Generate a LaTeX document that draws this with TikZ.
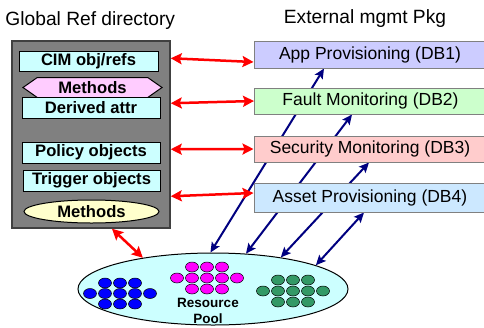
\documentclass[tikz,border=0pt]{standalone}
\usepackage{fontspec}
\setmainfont{Liberation Sans}
\usetikzlibrary{arrows.meta,shapes.geometric,shapes.symbols,calc}
\pgfdeclarelayer{bg}
\pgfsetlayers{bg,main}
\definecolor{boxgray}{HTML}{808080}
\definecolor{boxedge}{HTML}{404040}
\definecolor{cyanfill}{HTML}{CCFFFF}
\definecolor{pinkfill}{HTML}{FFCCFF}
\definecolor{yellowfill}{HTML}{FFFFCC}
\definecolor{appfill}{HTML}{CCCCFF}
\definecolor{faultfill}{HTML}{CCFFCC}
\definecolor{secfill}{HTML}{FFCCCC}
\definecolor{assetfill}{HTML}{CCE8FF}
\definecolor{redarrow}{HTML}{FF0000}
\definecolor{navyarrow}{HTML}{000080}
\definecolor{dotblue}{HTML}{0000FF}
\definecolor{dotmagenta}{HTML}{FF00FF}
\definecolor{dotgreen}{HTML}{339966}
\definecolor{rightedge}{HTML}{808080}
\begin{document}
\begin{tikzpicture}[x=1pt,y=-1pt,
  leftbox/.style={draw=black, line width=1pt, fill=cyanfill, inner sep=0pt,
    font=\fontsize{16.6}{18}\selectfont\bfseries},
  rightbox/.style={draw=rightedge, line width=1pt, inner sep=0pt,
    minimum width=232pt, font=\fontsize{17.5}{19}\selectfont},
  titletext/.style={anchor=base, inner sep=0pt, font=\fontsize{19.2}{21}\selectfont},
  redarr/.style={draw=redarrow, line width=2.5pt,
    {Stealth[length=11pt,width=11pt,inset=2pt]}-{Stealth[length=11pt,width=11pt,inset=2pt]}},
  bluearr/.style={draw=navyarrow, line width=2pt,
    {Stealth[length=10pt,width=9pt,inset=2pt]}-{Stealth[length=10pt,width=9pt,inset=2pt]}},
  dot/.style={draw=black, line width=0.5pt}
]
\clip (0,0) rectangle (484,327);
\begin{pgfonlayer}{bg}
\fill[white] (0,0) rectangle (484,327);
\end{pgfonlayer}

% titles
\node[titletext] (t1) at (90.3,25) {Global Ref directory};
\node[titletext] (t2) at (365,23.5) {External mgmt Pkg};

% global ref directory
\node[draw=boxedge, line width=1.5pt, fill=boxgray, minimum width=158pt,
  minimum height=187pt, inner sep=0pt] (gray) at (91,134.5) {};
\node[leftbox, minimum width=139pt, minimum height=20pt] (cim) at (88.5,61) {CIM obj/refs};
\node[draw=black, line width=1pt, fill=pinkfill, shape=signal, signal to=east and west,
  signal pointer angle=70, minimum width=139pt, minimum height=20pt, inner sep=0pt,
  font=\fontsize{16.6}{18}\selectfont\bfseries] (meth1) at (92.5,87.5) {Methods};
\node[leftbox, minimum width=138pt, minimum height=21pt] (derived) at (91,107.5) {Derived attr};
\node[leftbox, minimum width=138pt, minimum height=21pt] (policy) at (91,152.5) {Policy objects};
\node[leftbox, minimum width=137pt, minimum height=21pt] (trigger) at (91.5,180.5) {Trigger objects};
\node[ellipse, draw=black, line width=1pt, fill=yellowfill, minimum width=135pt,
  minimum height=23pt, inner sep=0pt, font=\fontsize{16.6}{18}\selectfont\bfseries]
  (meth2) at (91.5,211.5) {Methods};

% external packages
\node[rightbox, fill=appfill, minimum height=27pt] (app) at (370,54.5) {App Provisioning (DB1)};
\node[rightbox, fill=faultfill, minimum height=26pt] (fault) at (370.5,101) {Fault Monitoring (DB2)};
\node[rightbox, fill=secfill, minimum height=26pt] (sec) at (370,149) {Security Monitoring (DB3)};
\node[rightbox, fill=assetfill, minimum height=29pt] (asset) at (370,197.5) {Asset Provisioning (DB4)};

% resource pool
\node[ellipse, draw=black, line width=1pt, fill=cyanfill, minimum width=270pt,
  minimum height=72pt, inner sep=0pt] (pool) at (213,289) {};

\foreach \x/\y in {105/283,120/283,135/283,90/293.5,105/293.5,120/293.5,135/293.5,150/293.5,105/304,120/304,135/304}
  \filldraw[dot, fill=dotblue] (\x,\y) ellipse [x radius=6.5pt, y radius=5pt];
\foreach \x/\y in {192/267,207/267,222/267,177/278,192/278,207/278,222/278,237/278,192/289,207/289,222/289}
  \filldraw[dot, fill=dotmagenta] (\x,\y) ellipse [x radius=6.5pt, y radius=5pt];
\foreach \x/\y in {278/280,293/280,308/280,263/291,278/291,293/291,308/291,323/291,278/302,293/302,308/302}
  \filldraw[dot, fill=dotgreen] (\x,\y) ellipse [x radius=6.5pt, y radius=5pt];

\node[align=center, inner sep=0pt, font=\fontsize{13.5}{16}\selectfont\bfseries]
  (pooltext) at (208,311) {Resource\\Pool};

% blue arrows behind the package boxes
\begin{pgfonlayer}{bg}
\draw[bluearr] (pool.94.8) -- ($(app.south)+(-46,0)$);
\draw[bluearr] (pool.47.6) -- ($(fault.south)+(-18.5,0)$);
\draw[bluearr] (pool.25) -- ($(sec.south)+(-1,0)$);
\draw[bluearr] (pool.13.9) -- ($(asset.south)+(-6,0)$);
\end{pgfonlayer}

% red arrows
\draw[redarr] ($(gray.north east)+(0,18)$) -- ([yshift=-7.5pt]app.west);
\draw[redarr] ($(gray.north east)+(0,63)$) -- (fault.west);
\draw[redarr] ($(gray.north east)+(0,109)$) -- (sec.west);
\draw[redarr] ($(gray.north east)+(0,156)$) -- ([yshift=4.5pt]asset.west);
\draw[redarr] ($(gray.south)+(21,0)$) -- (pool.156.7);
\end{tikzpicture}
\end{document}
